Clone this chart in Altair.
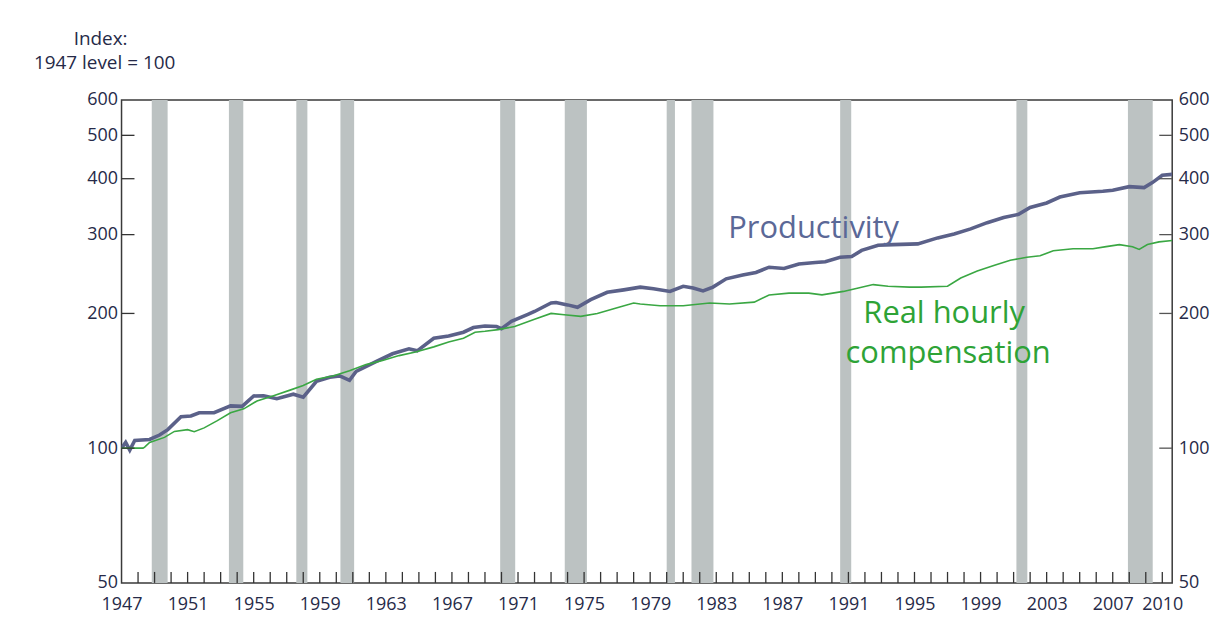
import altair as alt
import pandas as pd

# ---- data ----
prod_years = [1947.0, 1947.25, 1947.5, 1947.8, 1948.7, 1949.3, 1949.8, 1950.6, 1951.2, 1951.7,
              1952.6, 1953.6, 1954.3, 1955.0, 1955.6, 1956.4, 1957.4, 1958.0, 1958.8, 1959.6,
              1960.2, 1960.8, 1961.2, 1962.4, 1963.4, 1964.4, 1964.9, 1965.9, 1966.8, 1967.7,
              1968.3, 1969.0, 1969.7, 1970.0, 1970.6, 1971.6, 1972.0, 1973.0, 1973.3, 1974.0,
              1974.6, 1975.4, 1976.4, 1977.4, 1978.4, 1979.2, 1980.2, 1981.0, 1981.6, 1982.2,
              1982.8, 1983.6, 1984.6, 1985.4, 1986.2, 1987.1, 1988.0, 1989.0, 1989.6, 1990.5,
              1991.2, 1991.8, 1992.8, 1993.7, 1995.2, 1996.4, 1997.4, 1998.4, 1999.4, 2000.4,
              2001.3, 2002.0, 2003.0, 2003.8, 2005.0, 2006.4, 2007.0, 2008.0, 2008.9, 2009.4,
              2010.0, 2010.6]
prod_values = [100, 103, 99, 104, 104.6, 107, 110, 117.5, 118, 120,
               120, 124.3, 124, 130.8, 131, 129, 132, 130, 141, 144,
               145, 141.8, 148.4, 156, 162.5, 166.7, 165, 176, 178, 181.6,
               186, 187.5, 187, 185, 192, 199, 202, 211, 211.5, 209,
               206.5, 214.7, 223, 225.8, 229, 227, 224, 230, 228, 224.5,
               229, 239, 243.6, 247, 253.7, 252, 258, 260, 261, 267,
               268, 276.6, 284, 285, 286, 295, 301, 309, 319, 327.7,
               333, 345, 353, 364, 372, 375, 377, 384, 382, 392,
               407, 409]

comp_years = [1947.0, 1948.3, 1948.4, 1948.7, 1949.6, 1950.2, 1951.0, 1951.4, 1952.0, 1952.8,
              1953.6, 1954.4, 1955.2, 1956.2, 1957.2, 1958.0, 1958.8, 1959.8, 1960.8, 1961.8,
              1962.8, 1963.8, 1964.8, 1965.9, 1966.8, 1967.7, 1968.4, 1969.0, 1969.8, 1970.8,
              1972.0, 1973.0, 1973.8, 1974.8, 1975.8, 1977.0, 1978.0, 1978.4, 1979.6, 1981.0,
              1982.6, 1983.8, 1985.3, 1986.2, 1987.4, 1988.6, 1989.4, 1990.7, 1991.6, 1992.5,
              1993.4, 1994.7, 1995.4, 1997.0, 1997.8, 1998.8, 1999.8, 2000.8, 2001.8, 2002.6,
              2003.4, 2004.6, 2005.8, 2006.6, 2007.4, 2008.2, 2008.6, 2009.1, 2009.8, 2010.6]
comp_values = [100, 100, 100.5, 103, 105.7, 109, 110, 108.8, 111, 115.2,
               120, 122.4, 127.5, 131, 134.8, 138, 142.5, 145, 149, 153.7,
               157, 161, 164, 168.4, 172.7, 176, 181.6, 182.5, 184, 187,
               194, 200, 198.6, 197, 200, 206, 211, 210, 208, 208,
               211, 210, 212, 220, 222, 222, 220, 224, 228, 232,
               230, 229, 229, 230, 240, 248.7, 256, 263, 267, 269,
               276, 279, 279, 282, 285, 282, 278, 285, 289, 291]

rec_start = [1948.83, 1953.5, 1957.58, 1960.25, 1969.92, 1973.83, 1980.0, 1981.5, 1990.5, 2001.17, 2007.92]
rec_end = [1949.79, 1954.37, 1958.25, 1961.08, 1970.83, 1975.17, 1980.5, 1982.83, 1991.17, 2001.83, 2009.42]

x_label_years = [1947, 1951, 1955, 1959, 1963, 1967, 1971, 1975, 1979, 1983, 1987,
                 1991, 1995, 1999, 2003, 2007, 2010]
tick_years = list(range(1948, 2011))
y_label_values = [50, 100, 200, 300, 400, 500, 600]
y_tick_values = [100, 200, 300, 400, 500]

# ---- chart ----
W, H = 1055, 485
FONT = "Open Sans"
TXT = "#262a48"
xs = alt.Scale(domain=[1947, 2010.6], nice=False, zero=False)
ys = alt.Scale(type="log", domain=[50, 600], nice=False)

XAXIS = alt.Axis(values=x_label_years, format="d", ticks=False, domain=False, grid=False,
                 labelFlush=False, labelPadding=13, labelFontSize=18, labelFont=FONT,
                 labelColor=TXT, title=None)

prod_df = pd.DataFrame({"year": prod_years, "value": prod_values})
comp_df = pd.DataFrame({"year": comp_years, "value": comp_values})
rec_df = pd.DataFrame({"start": rec_start, "end": rec_end})

rec = alt.Chart(rec_df).mark_rect(color="#bcc2c2").encode(
    x=alt.X("start:Q", scale=xs, axis=XAXIS), x2="end:Q",
    y=alt.value(0), y2=alt.value(H))

prod = alt.Chart(prod_df).mark_line(color="#5b6189", strokeWidth=3.6, clip=True).encode(
    x=alt.X("year:Q", scale=xs, axis=XAXIS),
    y=alt.Y("value:Q", scale=ys, axis=alt.Axis(
        orient="left", values=y_label_values, format="d", ticks=False, domain=False,
        grid=False, labelFlush=False, labelPadding=4, labelFontSize=18, labelFont=FONT,
        labelColor=TXT, title=None)))

comp = alt.Chart(comp_df).mark_line(color="#3aa743", strokeWidth=1.6, clip=True).encode(
    x=alt.X("year:Q", scale=xs, axis=XAXIS),
    y=alt.Y("value:Q", scale=ys, axis=alt.Axis(
        orient="right", values=y_label_values, format="d", ticks=False, domain=False,
        grid=False, labelFlush=False, labelPadding=6, labelFontSize=18, labelFont=FONT,
        labelColor=TXT, title=None)))

xticks = alt.Chart(pd.DataFrame({"year": tick_years})).mark_rule(color="#333333", strokeWidth=1.3).encode(
    x=alt.X("year:Q", scale=xs, axis=XAXIS), y=alt.value(H), y2=alt.value(H - 11))

ytick_df = pd.DataFrame({"v": y_tick_values})
yticks_l = alt.Chart(ytick_df).mark_rule(color="#333333", strokeWidth=1.3).encode(
    y=alt.Y("v:Q", scale=ys, axis=None), x=alt.value(0), x2=alt.value(13))
yticks_r = alt.Chart(ytick_df).mark_rule(color="#555555", strokeWidth=1.3).encode(
    y=alt.Y("v:Q", scale=ys, axis=None), x=alt.value(W - 13), x2=alt.value(W))

def label(text, x, y, size, color):
    return alt.Chart(pd.DataFrame({"t": [text]})).mark_text(
        font=FONT, fontSize=size, color=color, align="center", baseline="middle").encode(
        text="t:N", x=alt.value(x), y=alt.value(y))

t_prod = label("Productivity", 695, 130, 31, "#5b6897")
t_real = label("Real hourly", 826, 215, 31, "#2ea336")
t_comp = label("compensation", 830, 255, 31, "#2ea336")
t_idx = label("Index:", -21, -61, 19, TXT)
t_lvl = label("1947 level = 100", -17, -37, 19, TXT)

chart = alt.layer(rec, prod, comp, xticks, yticks_l, yticks_r,
                  t_prod, t_real, t_comp, t_idx, t_lvl).resolve_axis(
    y="independent").properties(
    width=W, height=H,
    autosize=alt.AutoSizeParams(type="none"),
    padding={"left": 114, "top": 91, "right": 50, "bottom": 40},
    background="white",
).configure_view(stroke="#3a3a3a", strokeWidth=1.5)

chart.save("out.html", embed_options={"renderer": "svg", "actions": False})
